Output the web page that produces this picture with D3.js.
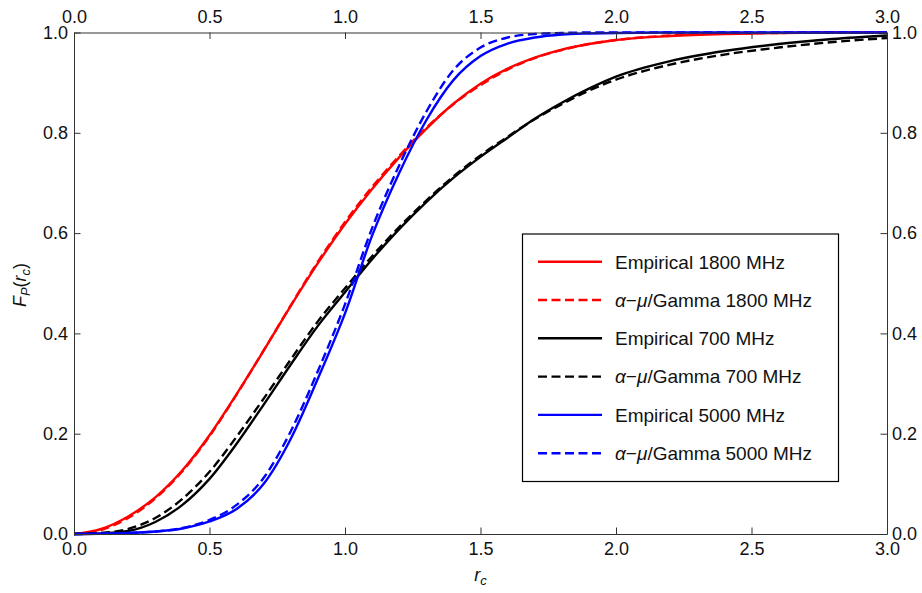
<!DOCTYPE html>
<html>
<head>
<meta charset="utf-8">
<script src="https://cdn.jsdelivr.net/npm/d3@7"></script>
<style>
  body { margin: 0; background: #fff; }
  svg { font-family: "Liberation Sans", Arial, Helvetica, sans-serif; }
</style>
</head>
<body>
<div id="chart"></div>
<script>
// r_c grid shared by all curves
var rc = [0, 0.1, 0.2, 0.3, 0.4, 0.5, 0.6, 0.7, 0.8, 0.9, 1.0, 1.1, 1.2, 1.3, 1.4, 1.5, 1.6, 1.7, 1.8, 1.9, 2.0, 2.2, 2.4, 2.6, 2.8, 3.0];

var emp1800 = [0, 0.01, 0.035, 0.073, 0.127, 0.197, 0.279, 0.366, 0.455, 0.54, 0.618, 0.688, 0.751, 0.808, 0.858, 0.898, 0.928, 0.95, 0.966, 0.977, 0.985, 0.993, 0.997, 0.999, 1.0, 1.0];
var fit1800 = [0, 0.008, 0.032, 0.071, 0.125, 0.195, 0.278, 0.366, 0.456, 0.543, 0.622, 0.692, 0.754, 0.81, 0.857, 0.895, 0.926, 0.949, 0.965, 0.977, 0.985, 0.994, 0.998, 0.999, 1.0, 1.0];
var emp700 = [0, 0.001, 0.006, 0.024, 0.058, 0.11, 0.18, 0.258, 0.338, 0.415, 0.482, 0.548, 0.608, 0.662, 0.71, 0.752, 0.79, 0.828, 0.86, 0.888, 0.912, 0.943, 0.963, 0.977, 0.987, 0.994];
var fit700 = [0, 0.002, 0.01, 0.032, 0.07, 0.124, 0.194, 0.27, 0.348, 0.424, 0.49, 0.554, 0.612, 0.665, 0.713, 0.755, 0.792, 0.827, 0.857, 0.884, 0.906, 0.936, 0.956, 0.97, 0.981, 0.989];
var emp5000 = [0, 0.0005, 0.002, 0.005, 0.011, 0.025, 0.05, 0.1, 0.19, 0.31, 0.44, 0.595, 0.72, 0.825, 0.905, 0.953, 0.978, 0.99, 0.996, 0.998, 0.999, 1, 1, 1, 1, 1];
var fit5000 = [0, 0.0005, 0.002, 0.005, 0.012, 0.028, 0.058, 0.112, 0.205, 0.325, 0.458, 0.61, 0.735, 0.842, 0.925, 0.97, 0.99, 0.997, 0.999, 1, 1, 1, 1, 1, 1, 1];

var xMajor = [0, 0.5, 1.0, 1.5, 2.0, 2.5, 3.0];
var yMajor = [0, 0.2, 0.4, 0.6, 0.8, 1.0];

var series = [
    { name: 'Empirical 1800 MHz', values: emp1800, color: '#ff0000', dashed: false },
    { name: '1800 MHz', values: fit1800, color: '#ff0000', dashed: true },
    { name: 'Empirical 700 MHz', values: emp700, color: '#000000', dashed: false },
    { name: '700 MHz', values: fit700, color: '#000000', dashed: true },
    { name: 'Empirical 5000 MHz', values: emp5000, color: '#0000ff', dashed: false },
    { name: '5000 MHz', values: fit5000, color: '#0000ff', dashed: true }
];

var svgWidth = 922, svgHeight = 593;
var padL = 74, padR = 887, padT = 32.5, padB = 534;
var dash = '9,4.5';
var axisColor = '#333';

var svg = d3.select('#chart').append('svg')
    .attr('width', svgWidth).attr('height', svgHeight);

var x = d3.scaleLinear().domain([0, 3]).range([padL, padR]);
var y = d3.scaleLinear().domain([0, 1]).range([padB, padT]);

var xMinor = d3.range(0, 3.0001, 0.1);
var yMinor = d3.range(0, 1.0001, 0.05);

// draw an inward-ticked axis on one side: minor ticks first, then labelled majors
function drawAxis(axisFn, scale, pos, minor, major, pad) {
    var g = svg.append('g').attr('transform', pos);
    g.call(axisFn(scale).tickValues(minor).tickSizeInner(-3.5).tickSizeOuter(0).tickFormat(''));
    g.call(axisFn(scale).tickValues(major).tickSizeInner(-6.5).tickSizeOuter(0)
        .tickPadding(pad).tickFormat(d3.format('.1f')));
    g.selectAll('.domain, .tick line').attr('stroke', axisColor).attr('stroke-width', 1);
    g.selectAll('text').attr('font-size', 18).attr('fill', '#111')
        .attr('font-family', '"Liberation Sans", Arial, sans-serif');
    return g;
}

// curves
var line = d3.line()
    .x(function(d) { return x(d[0]); })
    .y(function(d) { return y(d[1]); })
    .curve(d3.curveMonotoneX);

series.forEach(function(s) {
    svg.append('path')
        .datum(rc.map(function(r, i) { return [r, s.values[i]]; }))
        .attr('fill', 'none')
        .attr('stroke', s.color)
        .attr('stroke-width', 2.4)
        .attr('stroke-dasharray', s.dashed ? dash : null)
        .attr('d', line);
});

drawAxis(d3.axisBottom, x, 'translate(0,' + padB + ')', xMinor, xMajor, 8);
drawAxis(d3.axisTop, x, 'translate(0,' + padT + ')', xMinor, xMajor, 10);
drawAxis(d3.axisLeft, y, 'translate(' + padL + ',0)', yMinor, yMajor, 6);
drawAxis(d3.axisRight, y, 'translate(' + padR + ',0)', yMinor, yMajor, 5);

// axis titles
var xl = svg.append('text').attr('x', 480.5).attr('y', 581)
    .attr('text-anchor', 'middle').attr('font-size', 18).attr('fill', '#111');
xl.append('tspan').attr('font-style', 'italic').text('r');
xl.append('tspan').attr('font-style', 'italic').attr('font-size', 13).attr('dy', 4).text('c');

var yl = svg.append('text')
    .attr('transform', 'translate(26,285) rotate(-90)')
    .attr('text-anchor', 'middle').attr('font-size', 18).attr('fill', '#111');
yl.append('tspan').attr('font-style', 'italic').text('F');
yl.append('tspan').attr('font-style', 'italic').attr('font-size', 13).attr('dy', 4).text('P');
yl.append('tspan').attr('dy', -4).text('(');
yl.append('tspan').attr('font-style', 'italic').text('r');
yl.append('tspan').attr('font-style', 'italic').attr('font-size', 13).attr('dy', 4).text('c');
yl.append('tspan').attr('dy', -4).text(')');

// legend
var lg = svg.append('g');
lg.append('rect')
    .attr('x', 522.5).attr('y', 234).attr('width', 316).attr('height', 247.5)
    .attr('fill', '#fff').attr('stroke', '#000').attr('stroke-width', 1.2);

series.forEach(function(s, i) {
    var ry = 261.7 + i * 38.3;
    lg.append('line')
        .attr('x1', 538).attr('x2', 602).attr('y1', ry).attr('y2', ry)
        .attr('stroke', s.color).attr('stroke-width', 2.4)
        .attr('stroke-dasharray', s.dashed ? dash : null);
    var t = lg.append('text').attr('x', 615).attr('y', ry + 6.8)
        .attr('font-size', 19).attr('fill', '#111');
    if (s.dashed) {
        t.append('tspan').attr('font-style', 'italic').text('\u03b1');
        t.append('tspan').text('\u2212');
        t.append('tspan').attr('font-style', 'italic').text('\u03bc');
        t.append('tspan').text('/Gamma ' + s.name);
    } else {
        t.text(s.name);
    }
});
</script>
</body>
</html>
